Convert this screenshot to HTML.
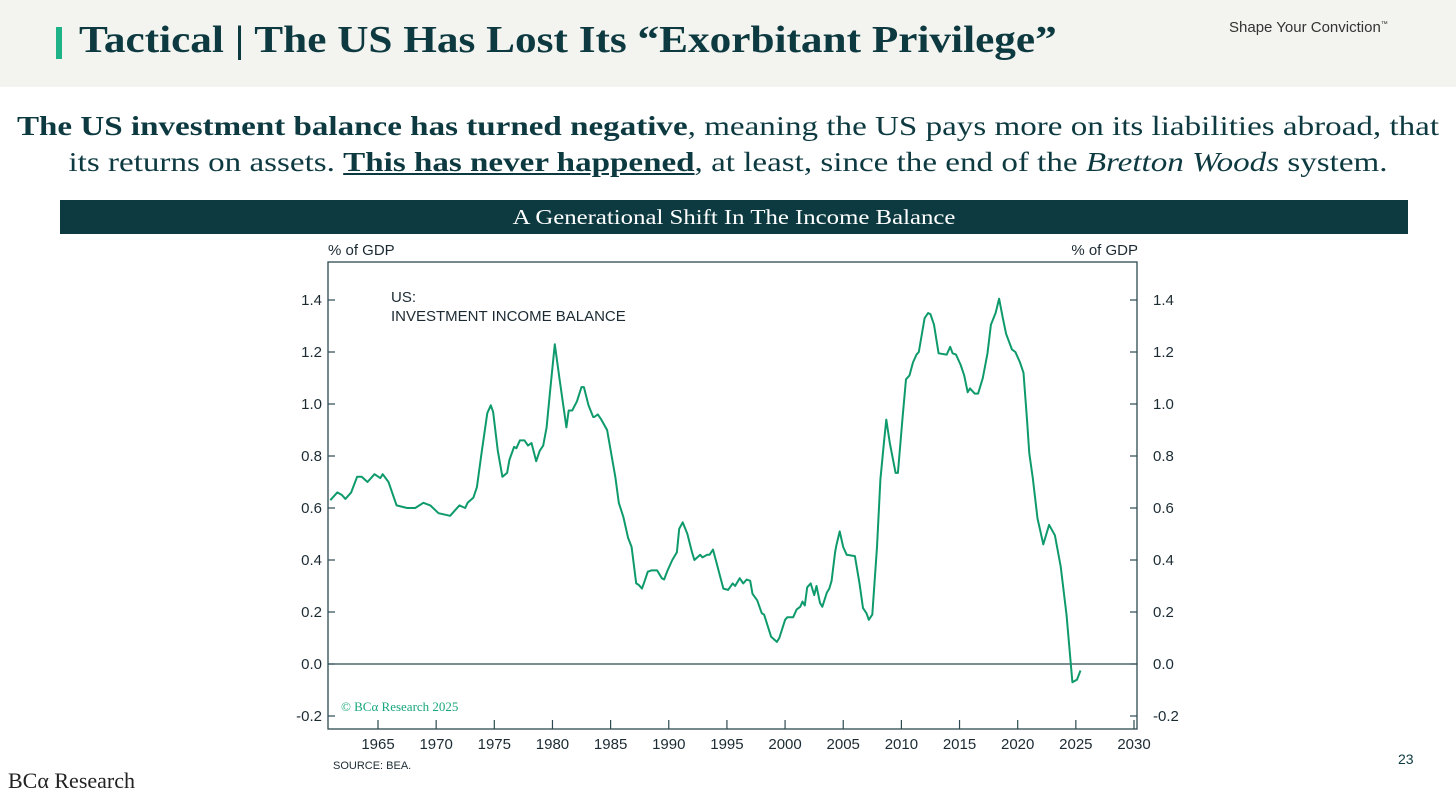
<!DOCTYPE html>
<html><head><meta charset="utf-8">
<style>
body{margin:0;width:1456px;height:799px;background:#fff;position:relative;overflow:hidden;font-family:"Liberation Serif",serif;}
.hdr{position:absolute;left:0;top:0;width:1456px;height:87px;background:#f3f3ef;}
.bar{position:absolute;left:56px;top:27px;width:6px;height:32px;background:#1db386;}
.title{position:absolute;left:79px;top:18px;font-size:38px;font-weight:bold;color:#0d3a40;white-space:nowrap;transform:scaleX(1.138);transform-origin:0 0;}
.tag{position:absolute;left:1229px;top:19px;font-family:"Liberation Sans",sans-serif;font-size:15px;color:#333;}
.sub{position:absolute;left:0;width:1456px;text-align:center;font-size:27px;line-height:36px;color:#0d3a40;white-space:nowrap;transform:scaleX(1.225);transform-origin:728px 0;}
.band{position:absolute;left:60px;top:200px;width:1348px;height:34px;background:#0d3a40;}
.bandt{position:absolute;left:0;top:0;width:1348px;color:#fff;text-align:center;font-size:21px;line-height:34px;transform:scaleX(1.18);transform-origin:674px 0;}
.logo{position:absolute;left:8px;top:768px;font-size:22px;color:#222;}
.pg{position:absolute;left:1398px;top:751px;font-family:"Liberation Sans",sans-serif;font-size:14px;color:#0d3a40;}
svg{position:absolute;left:0;top:0;}
svg text{font-family:"Liberation Sans",sans-serif;}
</style></head><body>
<div class="hdr"></div>
<div class="bar"></div>
<div class="title">Tactical | The US Has Lost Its “Exorbitant Privilege”</div>
<div class="tag">Shape Your Conviction<sup style="font-size:7px">™</sup></div>
<div class="sub" style="top:108px"><b>The US investment balance has turned negative</b>, meaning the US pays more on its liabilities abroad, that</div>
<div class="sub" style="top:144px">its returns on assets. <b><u>This has never happened</u></b>, at least, since the end of the <i>Bretton Woods</i> system.</div>
<div class="band"><div class="bandt">A Generational Shift In The Income Balance</div></div>
<div class="logo">BCα Research</div>
<div class="pg">23</div>
<svg id="chart" width="1456" height="799"></svg>
<script>
const years=[1960.9,1961.5,1961.9,1962.2,1962.7,1963.2,1963.6,1964.1,1964.7,1965.2,1965.4,1965.9,1966.6,1967.5,1968.2,1968.9,1969.5,1970.2,1971.2,1971.6,1972.0,1972.5,1972.7,1973.2,1973.5,1973.9,1974.4,1974.7,1974.9,1975.3,1975.7,1976.1,1976.3,1976.7,1976.9,1977.2,1977.6,1977.9,1978.2,1978.6,1978.9,1979.2,1979.5,1979.8,1980.2,1980.6,1981.2,1981.4,1981.7,1982.1,1982.5,1982.7,1983.1,1983.5,1983.6,1983.9,1984.2,1984.7,1985.4,1985.7,1986.1,1986.5,1986.8,1987.2,1987.4,1987.7,1987.9,1988.2,1988.5,1989.0,1989.4,1989.6,1989.9,1990.3,1990.7,1990.9,1991.2,1991.6,1992.0,1992.2,1992.7,1992.9,1993.3,1993.5,1993.8,1994.1,1994.4,1994.7,1995.1,1995.5,1995.7,1996.1,1996.4,1996.7,1997.0,1997.2,1997.6,1998.0,1998.2,1998.8,1999.3,1999.5,2000.0,2000.2,2000.7,2001.0,2001.3,2001.5,2001.7,2001.9,2002.2,2002.5,2002.7,2003.0,2003.2,2003.6,2003.8,2004.0,2004.3,2004.4,2004.7,2005.0,2005.3,2006.0,2006.4,2006.7,2007.0,2007.2,2007.5,2007.9,2008.2,2008.5,2008.7,2009.0,2009.5,2009.7,2010.1,2010.4,2010.7,2011.0,2011.3,2011.5,2012.0,2012.3,2012.5,2012.8,2013.2,2013.9,2014.2,2014.4,2014.7,2015.1,2015.4,2015.7,2015.9,2016.3,2016.6,2017.0,2017.4,2017.7,2018.1,2018.4,2018.7,2019.0,2019.5,2019.8,2020.2,2020.5,2020.8,2021.0,2021.3,2021.7,2022.2,2022.7,2023.2,2023.7,2024.2,2024.7,2025.1,2025.4];
const values=[0.63,0.66,0.65,0.635,0.66,0.72,0.72,0.70,0.73,0.715,0.73,0.70,0.61,0.60,0.60,0.62,0.61,0.58,0.57,0.59,0.61,0.60,0.62,0.64,0.68,0.81,0.965,0.995,0.97,0.82,0.72,0.735,0.785,0.835,0.83,0.86,0.86,0.84,0.85,0.78,0.82,0.84,0.91,1.05,1.23,1.10,0.91,0.975,0.975,1.01,1.065,1.065,0.995,0.95,0.95,0.96,0.94,0.90,0.72,0.62,0.565,0.485,0.45,0.31,0.305,0.29,0.315,0.355,0.36,0.36,0.33,0.325,0.36,0.40,0.43,0.52,0.545,0.50,0.43,0.40,0.42,0.41,0.42,0.42,0.44,0.39,0.34,0.29,0.285,0.31,0.30,0.33,0.31,0.325,0.32,0.27,0.245,0.195,0.19,0.105,0.085,0.10,0.17,0.18,0.18,0.21,0.22,0.24,0.225,0.295,0.31,0.265,0.30,0.235,0.22,0.275,0.29,0.32,0.43,0.455,0.51,0.45,0.42,0.415,0.31,0.215,0.195,0.17,0.19,0.45,0.71,0.85,0.94,0.85,0.735,0.735,0.945,1.095,1.11,1.16,1.19,1.20,1.33,1.35,1.345,1.305,1.195,1.19,1.22,1.195,1.19,1.15,1.11,1.045,1.06,1.04,1.04,1.10,1.195,1.305,1.35,1.405,1.335,1.27,1.21,1.20,1.16,1.12,0.94,0.81,0.715,0.56,0.46,0.535,0.495,0.375,0.19,-0.07,-0.06,-0.025];
const yTicks=[-0.2,0.0,0.2,0.4,0.6,0.8,1.0,1.2,1.4];
const xTicks=[1965,1970,1975,1980,1985,1990,1995,2000,2005,2010,2015,2020,2025,2030];

const L=328,R=1137,T=262,B=729;
const xs=y=>378+(y-1965)*(1134-378)/65;
const ys=v=>664-v*260;
const svg=document.getElementById('chart');
const NS='http://www.w3.org/2000/svg';
function mk(tag,attrs,txt){const e=document.createElementNS(NS,tag);for(const k in attrs)e.setAttribute(k,attrs[k]);if(txt!==undefined)e.textContent=txt;svg.appendChild(e);return e;}
const ax='#2d4a52';
let e;
e=mk('rect',{x:L,y:T,width:R-L,height:B-T,fill:'none',stroke:ax,'stroke-width':1.3});


e=mk('line',{x1:L,x2:R,y1:ys(0),y2:ys(0),stroke:ax,'stroke-width':1.3});


yTicks.forEach(v=>{
  const y=ys(v);
  e=mk('line',{x1:L,x2:L+7,y1:y,y2:y,stroke:ax,'stroke-width':1.2});
  
  
  e=mk('line',{x1:R-7,x2:R,y1:y,y2:y,stroke:ax,'stroke-width':1.2});
  
  
  const lab=v.toFixed(1);
  e=mk('text',{x:L-6,y:y+5,'text-anchor':'end','font-size':15,fill:'#1c2b33'},lab);
  
  
  e=mk('text',{x:R+16,y:y+5,'text-anchor':'start','font-size':15,fill:'#1c2b33'},lab);
  
  
});
xTicks.forEach(yr=>{
  const x=xs(yr);
  e=mk('line',{x1:x,x2:x,y1:B,y2:B-9,stroke:ax,'stroke-width':1.2});
  
  
  e=mk('text',{x:x,y:B+20,'text-anchor':'middle','font-size':15,fill:'#1c2b33'},String(yr));
  
  
});
const d=years.map((yr,i)=>(i?'L':'M')+xs(yr).toFixed(1)+','+ys(values[i]).toFixed(1)).join(' ');
e=mk('path',{d:d,fill:'none',stroke:'#0e9a6c','stroke-width':2,'stroke-linejoin':'round'});


e=mk('text',{x:328,y:255,'font-size':15,fill:'#1c2b33'},'% of GDP');


e=mk('text',{x:1138,y:255,'text-anchor':'end','font-size':15,fill:'#1c2b33'},'% of GDP');


e=mk('text',{x:391,y:302,'font-size':15,fill:'#1c2b33'},'US:');


e=mk('text',{x:391,y:321,'font-size':15,fill:'#1c2b33'},'INVESTMENT INCOME BALANCE');


e=mk('text',{x:341,y:711,'font-size':13,fill:'#17a77a',style:'font-family:"Liberation Serif",serif'},'© BCα Research 2025');


e=mk('text',{x:333,y:769,'font-size':11,fill:'#1c2b33'},'SOURCE: BEA.');


</script>
</body></html>
